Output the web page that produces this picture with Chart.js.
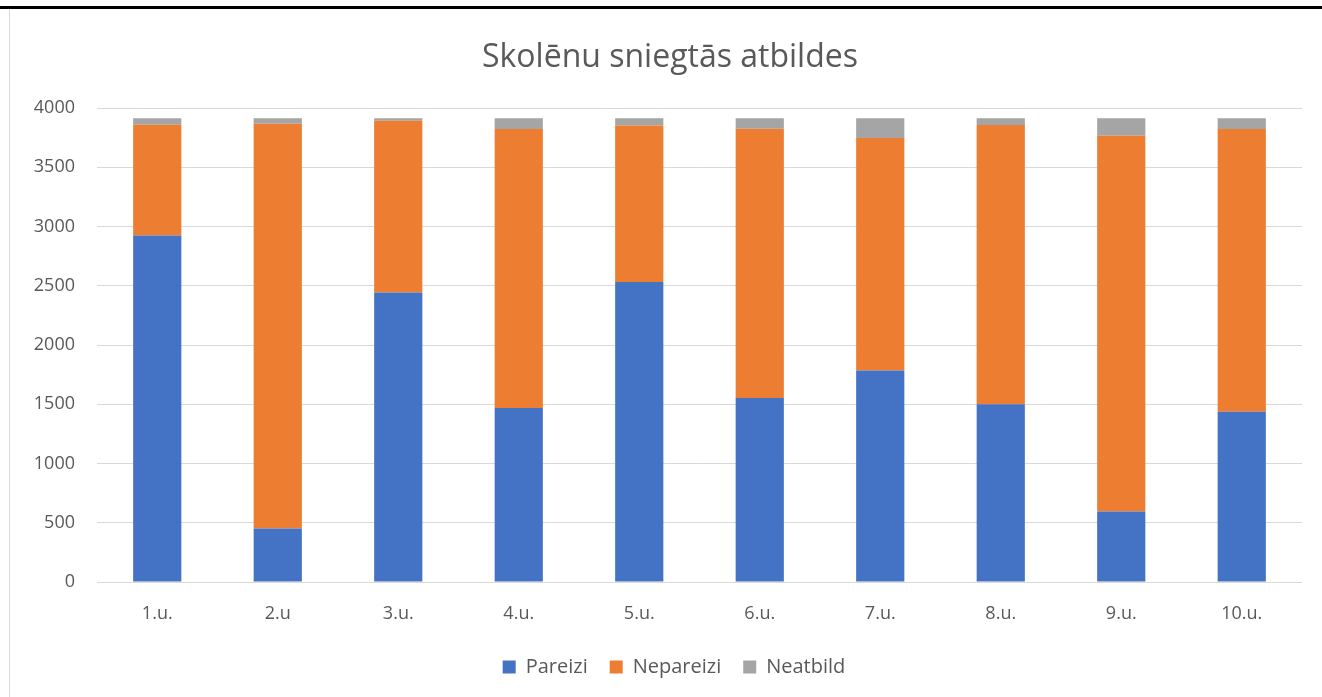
<!DOCTYPE html>
<html>
<head>
<meta charset="utf-8">
<script src="https://cdn.jsdelivr.net/npm/chart.js@4/dist/chart.umd.min.js"></script>
<style>
  html, body { margin: 0; padding: 0; background: #fff; }
  body { width: 1322px; height: 697px; position: relative; overflow: hidden; }
  #topline { position: absolute; left: 0; top: 6px; width: 1322px; height: 3px; background: #000; }
  #leftline { position: absolute; left: 9px; top: 9px; width: 1px; height: 688px; background: #d9d9d9; }
  #wrap { position: absolute; left: 10px; top: 10px; width: 1312px; height: 687px; }
</style>
</head>
<body>
<div id="topline"></div>
<div id="leftline"></div>
<div id="wrap"><canvas id="chart"></canvas></div>
<script>
// data
const categories = ['1.u.', '2.u', '3.u.', '4.u.', '5.u.', '6.u.', '7.u.', '8.u.', '9.u.', '10.u.'];
const pareizi   = [2924, 452, 2443, 1468, 2532, 1552, 1784, 1499, 595, 1437];
const nepareizi = [934, 3415, 1449, 2354, 1321, 2272, 1962, 2357, 3170, 2385];
const neatbild  = [55, 46, 21, 91, 60, 89, 167, 57, 148, 91];
const yTicks = [0, 500, 1000, 1500, 2000, 2500, 3000, 3500, 4000];

const textColor = '#595959';
const fontName = "'Open Sans', 'Noto Sans', sans-serif";

function makeSet(label, data, color) {
    return {
        label: label,
        data: data,
        backgroundColor: color,
        borderWidth: 0,
        categoryPercentage: 1,
        barPercentage: 0.4
    };
}

// the original chart frame runs past the right edge of the window,
// so title and legend sit a bit right of the canvas centre
const shiftBoxes = {
    id: 'shiftBoxes',
    afterLayout: function (chart) {
        if (chart.titleBlock) { chart.titleBlock.left += 14; chart.titleBlock.right += 14; }
        if (chart.legend) {
            chart.legend.left += 18; chart.legend.right += 18;
            chart.legend.top -= 10; chart.legend.bottom -= 10;
        }
    }
};

var ctx = document.getElementById('chart').getContext('2d');
var chart = new Chart(ctx, {
    type: 'bar',
    data: {
        labels: categories,
        datasets: [
            makeSet('Pareizi', pareizi, '#4472C4'),
            makeSet('Nepareizi', nepareizi, '#ED7D31'),
            makeSet('Neatbild', neatbild, '#A5A5A5')
        ]
    },
    plugins: [shiftBoxes],
    options: {
        responsive: true,
        maintainAspectRatio: false,
        animation: false,
        layout: { padding: { left: 0, right: 20, top: 0, bottom: 0 } },
        plugins: {
            title: {
                display: true,
                text: 'Skolēnu sniegtās atbildes',
                color: textColor,
                font: { family: fontName, size: 32, weight: 'normal', lineHeight: 1.2 },
                padding: { top: 29, bottom: 30.6 }
            },
            legend: {
                position: 'bottom',
                labels: {
                    color: textColor,
                    font: { family: fontName, size: 20 },
                    boxWidth: 13,
                    boxHeight: 13,
                    padding: 22
                }
            },
            tooltip: { enabled: false }
        },
        scales: {
            x: {
                stacked: true,
                grid: { display: false, drawTicks: false },
                border: { display: false },
                ticks: {
                    color: textColor,
                    font: { family: fontName, size: 18 },
                    padding: 21
                },
                afterFit: function (axis) { axis.height = 63; }
            },
            y: {
                stacked: true,
                min: 0,
                max: 4000,
                afterBuildTicks: function (axis) {
                    axis.ticks = yTicks.map(v => ({ value: v }));
                },
                grid: { color: '#d9d9d9', lineWidth: 1, drawTicks: false },
                border: { display: false },
                ticks: {
                    color: textColor,
                    font: { family: fontName, size: 18 },
                    padding: 22,
                    callback: function (v) { return String(v); }
                },
                afterFit: function (axis) { axis.width = 87; }
            }
        }
    }
});
</script>
</body>
</html>
